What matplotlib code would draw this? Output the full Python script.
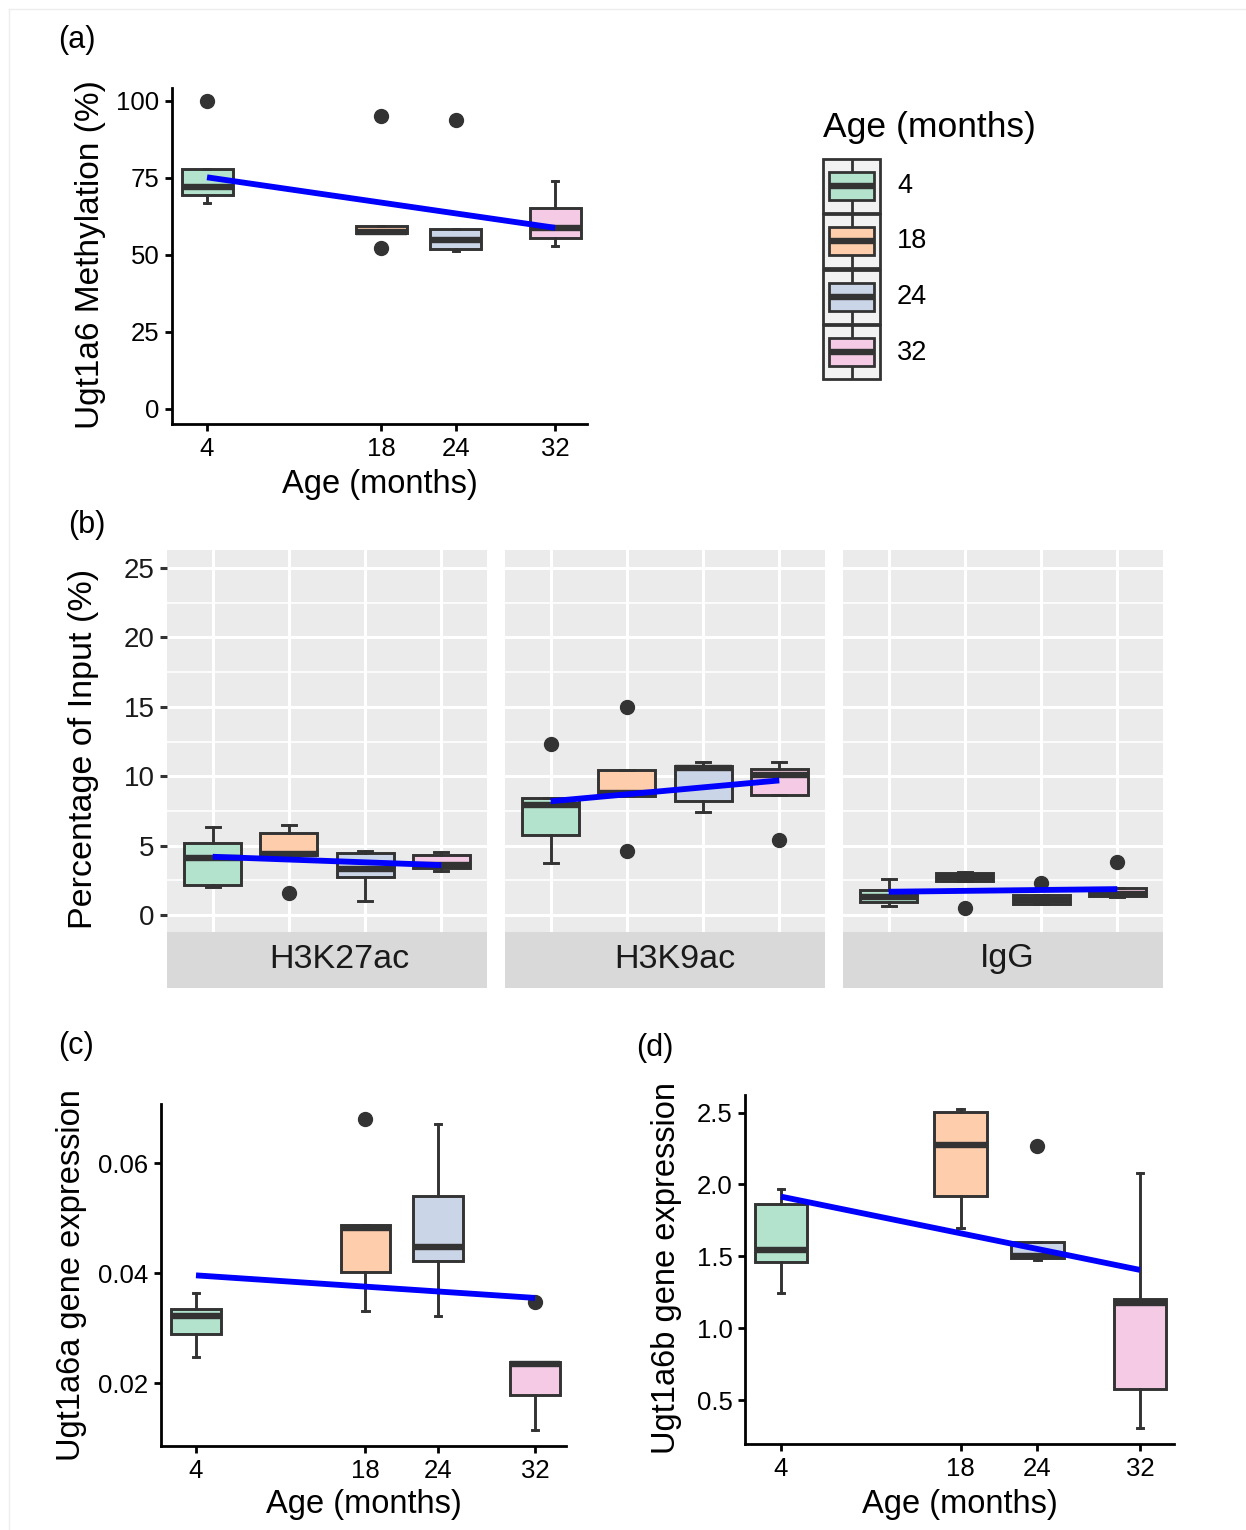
import matplotlib
matplotlib.use('Agg')
import matplotlib.pyplot as plt
from matplotlib.patches import Rectangle
from matplotlib.lines import Line2D
from matplotlib.ticker import FixedLocator

plt.rcParams['font.family'] = ['Liberation Sans', 'DejaVu Sans']

# ---------------- data ----------------
ages = [4, 18, 24, 32]
age_labels = ['4', '18', '24', '32']
fills = ['#B3E2CD', '#FDCDAC', '#CBD5E8', '#F4CAE4']

# (a) Ugt1a6 methylation
a_q1 = [69.3, 57.0, 51.8, 55.6]
a_med = [72.1, 57.5, 54.8, 58.8]
a_q3 = [77.9, 59.3, 58.5, 65.3]
a_lo = [66.7, 57.0, 51.2, 52.9]
a_hi = [77.9, 59.3, 58.5, 74.1]
a_out = [[100.0], [95.1, 52.4], [93.8], []]
a_trend = [75.2, 58.8]

# (b) ChIP percentage of input
marks = ['H3K27ac', 'H3K9ac', 'IgG']
b_q1 = [[2.2, 4.32, 2.76, 3.36], [5.8, 8.56, 8.2, 8.68], [0.96, 2.47, 0.79, 1.39]]
b_med = [[4.08, 4.4, 3.3, 3.6], [7.95, 8.8, 10.6, 10.1], [1.3, 2.75, 1.1, 1.55]]
b_q3 = [[5.2, 5.92, 4.44, 4.32], [8.44, 10.48, 10.72, 10.55], [1.8, 3.0, 1.44, 1.97]]
b_lo = [[2.04, 4.32, 1.0, 3.19], [3.72, 8.56, 7.39, 8.68], [0.65, 2.47, 0.79, 1.33]]
b_hi = [[6.35, 6.47, 4.63, 4.56], [8.44, 10.48, 11.03, 11.03], [2.57, 3.12, 1.44, 1.97]]
b_out = [[[], [1.6], [], []], [[12.3], [15.0, 4.6], [], [5.44]], [[], [0.53], [2.28], [3.84]]]
b_trend = [[4.2, 3.6], [8.2, 9.7], [1.68, 1.87]]

# (c) Ugt1a6a expression
c_q1 = [0.02901, 0.04025, 0.04229, 0.01782]
c_med = [0.03233, 0.04822, 0.04471, 0.02350]
c_q3 = [0.03354, 0.04882, 0.05408, 0.02386]
c_lo = [0.02484, 0.03323, 0.03233, 0.01148]
c_hi = [0.03644, 0.04882, 0.06713, 0.02386]
c_out = [[], [0.06798], [], [0.03474]]
c_trend = [0.03963, 0.03553]

# (d) Ugt1a6b expression
d_q1 = [1.462, 1.922, 1.486, 0.574]
d_med = [1.544, 2.275, 1.500, 1.173]
d_q3 = [1.862, 2.506, 1.602, 1.200]
d_lo = [1.247, 1.695, 1.475, 0.303]
d_hi = [1.966, 2.523, 1.602, 2.078]
d_out = [[], [], [2.268], []]
d_trend = [1.915, 1.405]

# ---------------- helpers ----------------
W, H = 1246, 1530
DARK = '#333333'
BLUE = '#0000FF'
fig = plt.figure(figsize=(W / 100, H / 100), dpi=100)


def px_axes(l, t, r, b):
    return fig.add_axes([l / W, 1 - b / H, (r - l) / W, (b - t) / H])


def px_text(x, y, s, **kw):
    fig.text(x / W, 1 - y / H, s, **kw)


def draw_boxes(ax, pos, q1, med, q3, lo, hi, out, width, capw):
    stats = [dict(q1=a, med=m, q3=b, whislo=l, whishi=h, fliers=o)
             for a, m, b, l, h, o in zip(q1, med, q3, lo, hi, out)]
    bp = ax.bxp(stats, positions=pos, widths=width, capwidths=capw,
                patch_artist=True, showfliers=True, manage_ticks=False,
                boxprops=dict(edgecolor=DARK, linewidth=2.1),
                medianprops=dict(color=DARK, linewidth=4.6, solid_capstyle='butt'),
                whiskerprops=dict(color=DARK, linewidth=2.1),
                capprops=dict(color=DARK, linewidth=2.1),
                flierprops=dict(marker='o', markerfacecolor=DARK, markeredgecolor=DARK,
                                markersize=10, linestyle='none'))
    for patch, c in zip(bp['boxes'], fills):
        patch.set_facecolor(c)
    return bp


def classic(ax):
    for s in ['top', 'right']:
        ax.spines[s].set_visible(False)
    for s in ['left', 'bottom']:
        ax.spines[s].set_linewidth(2.0)
        ax.spines[s].set_color('black')
    ax.tick_params(axis='both', length=5, width=2, color='black',
                   labelsize=18.5, labelcolor='black', pad=4)
    ax.set_facecolor('none')


# ---------------- panel (a) ----------------
ax = px_axes(172, 88, 587, 424)
classic(ax)
draw_boxes(ax, ages, a_q1, a_med, a_q3, a_lo, a_hi, a_out, 4.1, 0.5)
ax.plot([ages[0], ages[-1]], a_trend, color=BLUE, lw=4.2, solid_capstyle='butt', zorder=5)
ax.set_xlim(1.18, 34.57)
ax.set_ylim(-4.9, 104.2)
ax.set_xticks(ages)
ax.set_xticklabels(age_labels)
ax.set_yticks([0, 25, 50, 75, 100])
px_text(91, 255, 'Ugt1a6 Methylation (%)', rotation=90, ha='center', va='center', fontsize=24)
px_text(380, 485, 'Age (months)', ha='center', va='center', fontsize=23.5)

# legend
px_text(823, 127, 'Age (months)', ha='left', va='center', fontsize=25.5)
lg = px_axes(822, 158, 881, 380)
lg.set_xlim(0, 1)
lg.set_ylim(4, 0)
lg.axis('off')
for i, (c, lab) in enumerate(zip(fills, age_labels)):
    lg.add_patch(Rectangle((0.02, i + 0.01), 0.96, 0.98, facecolor='#F2F2F2',
                           edgecolor=DARK, lw=2, clip_on=False))
    lg.add_line(Line2D([0.5, 0.5], [i + 0.05, i + 0.95], color=DARK, lw=2, zorder=2))
    lg.add_patch(Rectangle((0.12, i + 0.25), 0.76, 0.5, facecolor=c,
                           edgecolor=DARK, lw=2, zorder=3))
    lg.add_line(Line2D([0.12, 0.88], [i + 0.5, i + 0.5], color=DARK, lw=4.6,
                       solid_capstyle='butt', zorder=4))
    px_text(897, 186 + i * 55.5, lab, ha='left', va='center', fontsize=19.5)

# ---------------- panel (b) ----------------
facet_x = [(167, 487), (505, 825), (843, 1163)]
strip_off = [12, 10, 4]
cats = [1, 2, 3, 4]
for i, (l, r) in enumerate(facet_x):
    ax = px_axes(l, 550, r, 932)
    ax.set_facecolor('#EBEBEB')
    for s in ax.spines.values():
        s.set_visible(False)
    ax.set_xlim(0.4, 4.6)
    ax.set_ylim(-1.22, 26.3)
    ax.xaxis.set_major_locator(FixedLocator(cats))
    ax.yaxis.set_major_locator(FixedLocator([0, 5, 10, 15, 20, 25]))
    ax.yaxis.set_minor_locator(FixedLocator([2.5, 7.5, 12.5, 17.5, 22.5]))
    ax.grid(which='major', color='white', lw=2.2)
    ax.grid(which='minor', axis='y', color='white', lw=1.2)
    ax.set_axisbelow(True)
    ax.tick_params(axis='x', which='both', length=0, labelbottom=False)
    ax.tick_params(axis='y', which='minor', length=0)
    if i == 0:
        ax.tick_params(axis='y', which='major', length=5, width=2.2, color=DARK,
                       labelsize=20, labelcolor='#1a1a1a', pad=4)
    else:
        ax.tick_params(axis='y', which='major', length=0, labelleft=False)
    draw_boxes(ax, cats, b_q1[i], b_med[i], b_q3[i], b_lo[i], b_hi[i], b_out[i], 0.75, 0.18)
    ax.plot([cats[0], cats[-1]], b_trend[i], color=BLUE, lw=4.2, solid_capstyle='butt', zorder=5)
    st = px_axes(l, 932, r, 988)
    st.set_facecolor('#D9D9D9')
    st.set_xticks([])
    st.set_yticks([])
    for s in st.spines.values():
        s.set_visible(False)
    px_text((l + r) / 2 + strip_off[i], 959, marks[i], ha='center', va='center',
            fontsize=24.5, color='#1a1a1a')
px_text(84, 749, 'Percentage of Input (%)', rotation=90, ha='center', va='center', fontsize=24.5)

# ---------------- panel (c) ----------------
ax = px_axes(161, 1104, 566, 1446)
classic(ax)
draw_boxes(ax, ages, c_q1, c_med, c_q3, c_lo, c_hi, c_out, 4.1, 0.5)
ax.plot([ages[0], ages[-1]], c_trend, color=BLUE, lw=4.2, solid_capstyle='butt', zorder=5)
ax.set_xlim(1.11, 34.56)
ax.set_ylim(0.00864, 0.07075)
ax.set_xticks(ages)
ax.set_xticklabels(age_labels)
ax.set_yticks([0.02, 0.04, 0.06])
ax.set_yticklabels(['0.02', '0.04', '0.06'])
px_text(72, 1275, 'Ugt1a6a gene expression', rotation=90, ha='center', va='center', fontsize=23.5)
px_text(364, 1505, 'Age (months)', ha='center', va='center', fontsize=23.5)

# ---------------- panel (d) ----------------
ax = px_axes(745, 1095, 1174, 1444)
classic(ax)
draw_boxes(ax, ages, d_q1, d_med, d_q3, d_lo, d_hi, d_out, 4.1, 0.5)
ax.plot([ages[0], ages[-1]], d_trend, color=BLUE, lw=4.2, solid_capstyle='butt', zorder=5)
ax.set_xlim(1.19, 34.65)
ax.set_ylim(0.194, 2.622)
ax.set_xticks(ages)
ax.set_xticklabels(age_labels)
ax.set_yticks([0.5, 1.0, 1.5, 2.0, 2.5])
ax.set_yticklabels(['0.5', '1.0', '1.5', '2.0', '2.5'])
px_text(667, 1268, 'Ugt1a6b gene expression', rotation=90, ha='center', va='center', fontsize=23.5)
px_text(960, 1505, 'Age (months)', ha='center', va='center', fontsize=23.5)

# ---------------- panel labels & frame ----------------
px_text(58, 40, '(a)', ha='left', va='center', fontsize=22)
px_text(68, 525, '(b)', ha='left', va='center', fontsize=22)
px_text(58, 1046, '(c)', ha='left', va='center', fontsize=22)
px_text(636, 1048, '(d)', ha='left', va='center', fontsize=22)
fig.add_artist(Line2D([9 / W, 1], [1 - 9 / H, 1 - 9 / H], color='#EDEDED', lw=1))
fig.add_artist(Line2D([9 / W, 9 / W], [1 - 9 / H, 0], color='#EDEDED', lw=1))

fig.savefig('out.png', dpi=100, facecolor='white')
